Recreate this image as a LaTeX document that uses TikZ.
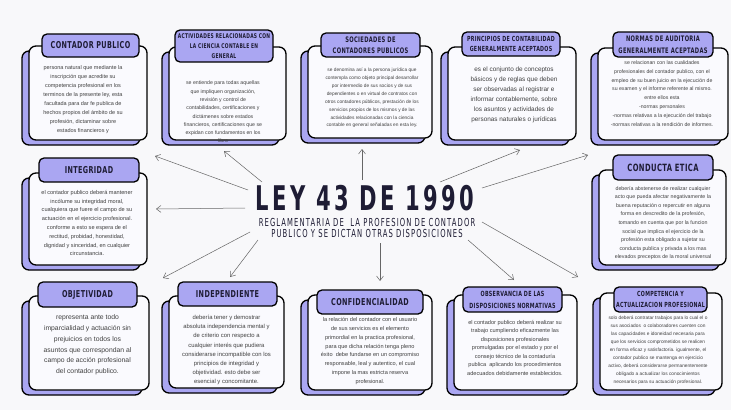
\documentclass[tikz,border=0pt]{standalone}
\usepackage{fontspec}
\setmainfont{Liberation Sans}
\newfontfamily\headfont[FakeStretch=0.68,LetterSpace=4]{DejaVu Sans}
\newfontfamily\leyfont[FakeStretch=0.62,LetterSpace=10]{DejaVu Sans}
\usepackage{tikz}
\usetikzlibrary{arrows.meta, shadows}
\definecolor{lav}{RGB}{170,166,242}
\definecolor{paper}{RGB}{248,248,250}
\definecolor{cardbg}{RGB}{250,250,254}
\definecolor{ink}{RGB}{30,28,52}
\newcommand{\fs}[2]{\fontsize{#1}{#2}\selectfont}
\newcommand{\hd}[2]{\headfont\bfseries\fontsize{#1}{#2}\selectfont}

\begin{document}
\begin{tikzpicture}[x=1pt, y=-1pt,
  card/.style={draw, line width=1.3pt, rounded corners=7pt, fill=cardbg,
     copy shadow={shadow xshift=-7pt, shadow yshift=-5pt, fill=lav, draw=black, line width=1.3pt}},
  tab/.style={draw, line width=1.3pt, rounded corners=5pt, fill=lav, align=center,
     inner sep=0pt, text=ink},
  txt/.style={align=center, text=black!75, inner sep=0pt},
  ar/.style={-{Straight Barb[length=1.6mm,width=2.4mm]}, black!60, line width=0.5pt}]
\useasboundingbox[fill=paper] (0,0) rectangle (731,410);

% cards
\node[card, minimum width=118pt, minimum height=94pt] (c1) at (88,93) {};
\node[card, minimum width=117pt, minimum height=93pt] (c2) at (227.5,93.5) {};
\node[card, minimum width=124pt, minimum height=92pt] (c3) at (370,92) {};
\node[card, minimum width=128pt, minimum height=93pt] (c4) at (512,93.5) {};
\node[card, minimum width=130pt, minimum height=92pt] (c5) at (663,94) {};
\node[card, minimum width=118pt, minimum height=92pt] (c6) at (88,219) {};
\node[card, minimum width=127pt, minimum height=95pt] (c7) at (662.5,217.5) {};
\node[card, minimum width=120pt, minimum height=94pt] (c8) at (89,343) {};
\node[card, minimum width=115pt, minimum height=92pt] (c9) at (226.5,342) {};
\node[card, minimum width=124pt, minimum height=95pt] (c10) at (370,342.5) {};
\node[card, minimum width=123pt, minimum height=95pt] (c11) at (515.5,342.5) {};
\node[card, minimum width=122pt, minimum height=97pt] (c12) at (661,341.5) {};

% tabs
\node[tab, minimum width=97pt, minimum height=23pt, font=\hd{9.5}{11}] (t1) at (90.5,45.5)
  {CONTADOR PUBLICO};
\node[tab, minimum width=98pt, minimum height=32pt, font=\hd{6.5}{10}] (t2) at (224,46)
  {ACTIVIDADES RELACIONADAS CON\\LA CIENCIA CONTABLE EN\\GENERAL};
\node[tab, minimum width=99pt, minimum height=24pt, font=\hd{7.6}{11.5}] (t3) at (370.5,45)
  {SOCIEDADES DE\\CONTADORES PUBLICOS};
\node[tab, minimum width=98pt, minimum height=24pt, font=\hd{7}{10.5}] (t4) at (511,44)
  {PRINCIPIOS DE CONTABILIDAD\\GENERALMENTE ACEPTADOS};
\node[tab, minimum width=100pt, minimum height=25pt, font=\hd{7.6}{11.5}] (t5) at (663,44.5)
  {NORMAS DE AUDITORIA\\GENERALMENTE ACEPTADAS};
\node[tab, minimum width=100pt, minimum height=24pt, font=\hd{9.5}{11}] (t6) at (89,170)
  {INTEGRIDAD};
\node[tab, minimum width=100pt, minimum height=25pt, font=\hd{10}{11}] (t7) at (663,167.5)
  {CONDUCTA ETICA};
\node[tab, minimum width=99pt, minimum height=25pt, font=\hd{9.5}{11}] (t8) at (87.5,294.5)
  {OBJETIVIDAD};
\node[tab, minimum width=99pt, minimum height=24pt, font=\hd{9.5}{11}] (t9) at (227.5,294)
  {INDEPENDIENTE};
\node[tab, minimum width=106pt, minimum height=24pt, font=\hd{9.5}{11}] (t10) at (370,302)
  {CONFIDENCIALIDAD};
\node[tab, minimum width=99pt, minimum height=25pt, font=\hd{7.1}{12}] (t11) at (512.5,299.5)
  {OBSERVANCIA DE LAS\\DISPOSICIONES NORMATIVAS};
\node[tab, minimum width=93pt, minimum height=25pt, font=\hd{7}{11.5}] (t12) at (660.5,299.5)
  {COMPETENCIA Y\\ACTUALIZACION PROFESIONAL};

% texts
\node[txt, font=\fs{5.5}{9}] (x1) at (83,100) {persona natural que mediante la\\inscripción que acredite su\\competencia profesional en los\\terminos de la presente ley, esta\\facultada para dar fe publica de\\hechos propios del ámbito de su\\profesión, dictaminar sobre\\estados financieros y};
\node[txt, font=\fs{5.2}{8.3}] (x2) at (223,112) {se entiende para todas aquellas\\que impliquen organización,\\revisión y control de\\contabilidades, certificaciones y\\dictámenes sobre estados\\financieros, certificaciones que se\\expidan con fundamentos en los\\libro};
\node[txt, font=\fs{4.8}{7.9}] (x3) at (372,98) {se denomina así a la persona jurídica que\\contempla como objeto principal desarrollar\\por intermedio de sus socios y de sus\\dependientes o en virtual de contratos con\\otros contadores públicos, prestación de los\\servicios propios de los mismos y de las\\actividades relacionadas con la ciencia\\contable en general señaladas en esta ley.};
\node[txt, font=\fs{6.4}{10}] (x4) at (514,95) {es el conjunto de conceptos\\básicos y de reglas que deben\\ser observadas al registrar e\\informar contablemente, sobre\\los asuntos y actividades de\\personas naturales o jurídicas};
\node[txt, font=\fs{5.2}{8.8}] (x5) at (662,93.5) {se relacionan con las cualidades\\profesionales del contador publico, con el\\empleo de su buen juicio en la ejecución de\\su examen y el informe referente al mismo.\\entre ellos esta\\-normas personales\\-normas relativas a la ejecución del trabajo\\-normas relativas a la rendición de informes.};
\node[txt, font=\fs{5.6}{8.8}] (x6) at (87,223) {el contador publico deberá mantener\\incólume su integridad moral,\\cualquiera que fuere el campo de su\\actuación en el ejercicio profesional.\\conforme a esto se espera de el\\rectitud, probidad, honestidad,\\dignidad y sinceridad, en cualquier\\circunstancia.};
\node[txt, font=\fs{5.3}{8.6}] (x7) at (663,223) {debería abstenerse de realizar cualquier\\acto que pueda afectar negativamente la\\buena reputación o repercutir en alguna\\forma en descredito de la profesión,\\tomando en cuenta que por la funcion\\social que implica el ejercicio de la\\profesión esta obligado a sujetar su\\conducta publica y privada a los mas\\elevados preceptos de la moral universal};
\node[txt, font=\fs{6.8}{10.8}] (x8) at (87.5,345) {representa ante todo\\imparcialidad y actuación sin\\prejuicios en todos los\\asuntos que correspondan al\\campo de acción profesional\\del contador publico.};
\node[txt, font=\fs{5.9}{9.1}] (x9) at (226.5,350) {debería tener y demostrar\\absoluta independencia mental y\\de criterio con respecto a\\cualquier interés que pudiera\\considerarse incompatible con los\\principios de integridad y\\objetividad. esto debe ser\\esencial y concomitante.};
\node[txt, font=\fs{5.6}{8.8}] (x10) at (370,351) {la relación del contador con el usuario\\de sus servicios es el elemento\\primordial en la practica profesional,\\para que dicha relación tenga pleno\\éxito \ debe fundarse en un compromiso\\responsable, leal y autentico, el cual\\impone la mas estricta reserva\\profesional.};
\node[txt, font=\fs{5.6}{8.5}] (x11) at (515,347.5) {el contador publico deberá realizar su\\trabajo cumpliendo eficazmente las\\disposiciones profesionales\\promulgadas por el estado y por el\\consejo técnico de la contaduría\\publica \ aplicando los procedimientos\\adecuados debidamente establecidos.};
\node[txt, font=\fs{4.8}{8}] (x12) at (658,350.5) {solo deberá contratar trabajos para lo cual el o\\sus asociados \ o colaboradores cuenten con\\las capacidades e idoneidad necesaria para\\que los servicios comprometidos se realicen\\en forma eficaz y satisfactoria. igualmente, el\\contador publico se mantenga en ejercicio\\activo, deberá considerarse permanentemente\\obligado a actualizar los conocimientos\\necesarios para su actuación profesional.};

% center
\node[font=\leyfont\bfseries\fs{34}{34}, text=ink, inner sep=0pt] (ley) at (365,198) {LEY 43 DE 1990};
\node[font=\leyfont\fs{11}{11.5}, text=ink, align=center, inner sep=0pt] (sub) at (367,228)
  {REGLAMENTARIA DE \ LA PROFESION DE CONTADOR\\PUBLICO Y SE DICTAN OTRAS DISPOSICIONES};

% arrows
\coordinate (s1) at (248,190);  \coordinate (e1) at (155,156);
\coordinate (s2) at (262,182);  \coordinate (e2) at (224,151);
\coordinate (s3) at (362,180);  \coordinate (e3) at (362,149);
\coordinate (s4) at (440,182);  \coordinate (e4) at (520,150);
\coordinate (s5) at (482,188);  \coordinate (e5) at (588,155);
\coordinate (s6) at (245,208);  \coordinate (e6) at (156,209);
\coordinate (s8) at (250,232);  \coordinate (e8) at (163,278);
\coordinate (s9) at (258,240);  \coordinate (e9) at (230,277);
\coordinate (s10) at (380,243); \coordinate (e10) at (380,281);
\coordinate (s11) at (468,240); \coordinate (e11) at (514,280);
\coordinate (s12) at (482,222); \coordinate (e12) at (578,277);
\foreach \i in {1,2,3,4,5,6,8,9,10,11,12}
  \draw[ar] (s\i) -- (e\i);
\end{tikzpicture}
\end{document}
